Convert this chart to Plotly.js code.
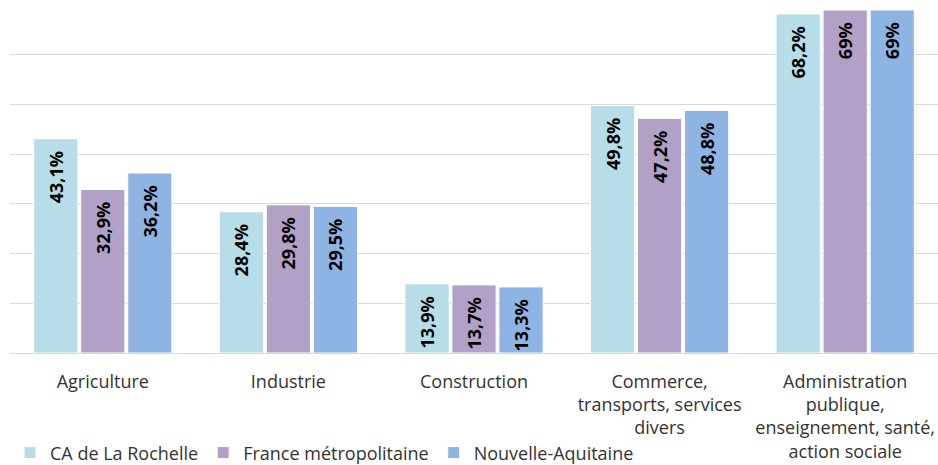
<!DOCTYPE html>
<html>
<head>
<meta charset="utf-8">
<script src="https://cdn.plot.ly/plotly-3.0.1.min.js"></script>
<style>
  html, body { margin: 0; padding: 0; background: #fff; }
  #myDiv { width: 938px; height: 465px; }
</style>
</head>
<body>
<div id="myDiv"></div>
<script>
var categories = [
  "Agriculture",
  "Industrie",
  "Construction",
  "Commerce,<br>transports, services<br>divers",
  "Administration<br>publique,<br>enseignement, santé,<br>action sociale"
];

var rochelle = [43.1, 28.4, 13.9, 49.8, 68.2];
var france = [32.9, 29.8, 13.7, 47.2, 69];
var aquitaine = [36.2, 29.5, 13.3, 48.8, 69];

// french style labels : 43,1%
function labels(values) {
  return values.map(function (v) {
    return String(v).replace(".", ",") + "%\u00a0\u00a0";
  });
}

function series(name, values, color) {
  return {
    x: categories,
    y: values,
    name: name,
    type: "bar",
    text: labels(values),
    textposition: "inside",
    insidetextanchor: "end",
    textangle: -90,
    constraintext: "none",
    textfont: { family: "Open Sans", size: 18, color: "#000", weight: "bold" },
    marker: { color: color, line: { color: "#fff", width: 1 } },
    hoverinfo: "none",
  };
}

var data = [
  series("CA de La Rochelle", rochelle, "#B7DDE8"),
  series("France métropolitaine", france, "#B2A1C7"),
  series("Nouvelle-Aquitaine", aquitaine, "#8EB4E3"),
];

var layout = {
  width: 938,
  height: 465,
  margin: { l: 10, r: 0, t: 5, b: 112, autoexpand: false },
  font: { family: "Open Sans", size: 18, color: "#333" },
  barmode: "group",
  bargap: 0.24,
  bargroupgap: 0.06,
  showlegend: true,
  legend: {
    orientation: "h",
    x: 0.0,
    xanchor: "left",
    y: -0.287,
    yanchor: "middle",
    font: { size: 18, color: "#333" },
    itemclick: false,
  },
  xaxis: {
    automargin: false,
    showgrid: false,
    showline: true,
    linecolor: "#D9D9D9",
    ticks: "",
    ticklabelstandoff: 12,
    tickangle: 0,
  },
  yaxis: {
    automargin: false,
    range: [0, 70],
    dtick: 10,
    showticklabels: false,
    gridcolor: "#D9D9D9",
    zeroline: false,
    fixedrange: true,
  },
  plot_bgcolor: "#fff",
  paper_bgcolor: "#fff",
};

Plotly.newPlot("myDiv", data, layout, { displayModeBar: false, staticPlot: true });
</script>
</body>
</html>
